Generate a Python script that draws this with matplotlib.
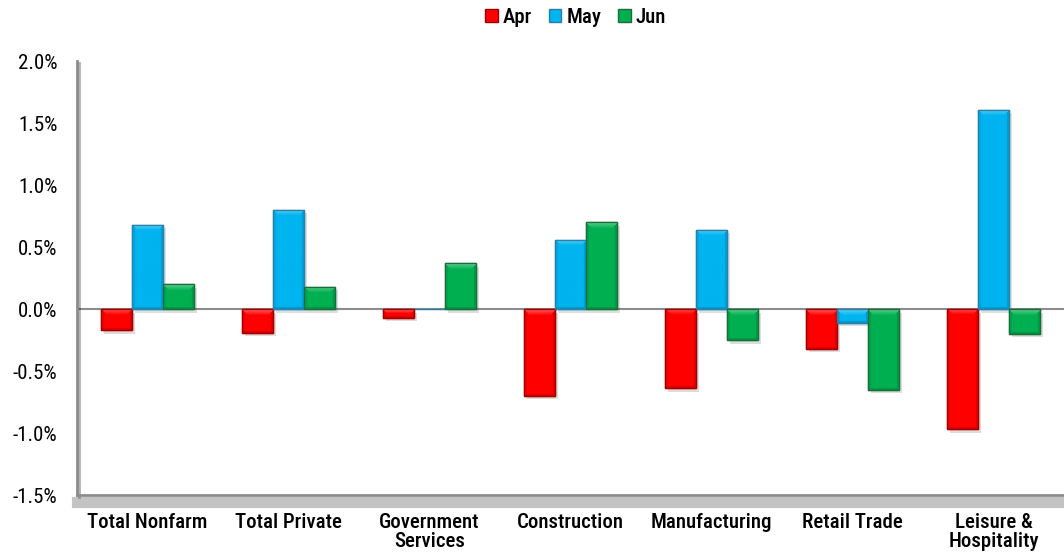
import matplotlib
matplotlib.use("Agg")
import matplotlib.pyplot as plt
import matplotlib.patheffects as pe
from matplotlib.ticker import FuncFormatter
from matplotlib.patches import Patch
from matplotlib.colors import to_rgb
import numpy as np

categories = ["Total Nonfarm", "Total Private", "Government\nServices", "Construction",
              "Manufacturing", "Retail Trade", "Leisure &\nHospitality"]
apr = [-0.17, -0.19, -0.07, -0.70, -0.64, -0.32, -0.97]
may = [0.68, 0.80, 0.0, 0.56, 0.64, -0.11, 1.61]
jun = [0.20, 0.18, 0.37, 0.70, -0.25, -0.65, -0.20]
series = [("Apr", apr, "#FF0000", "#A00000"),
          ("May", may, "#00B4F0", "#2A7FA8"),
          ("Jun", jun, "#00B050", "#1C6B3A")]
yticks = [-1.5, -1.0, -0.5, 0.0, 0.5, 1.0, 1.5, 2.0]

plt.rcParams['font.family'] = ['Roboto Condensed', 'Liberation Sans', 'DejaVu Sans']
plt.rcParams['font.weight'] = 400

fig = plt.figure(figsize=(10.64, 5.56), dpi=100)
ax = fig.add_axes([0.0724, 0.1097, 0.9276, 0.7803])
ax.set_xlim(-0.5, len(categories) - 0.5)
ax.set_ylim(-1.5, 2.0)

x = np.arange(len(categories))
w = 0.22
shadow = [pe.SimplePatchShadow(offset=(2, -2.5), alpha=0.15), pe.Normal()]


def bevel_image(col, wpx, hpx, b=6):
    base = np.array(to_rgb(col))
    wpx = max(int(round(wpx)), 2)
    hpx = max(int(round(hpx)), 2)
    img = np.tile(base, (hpx, wpx, 1))
    yy, xx = np.mgrid[0:hpx, 0:wpx]
    bb = min(b, hpx // 2, wpx // 2)
    sb = min(3, wpx // 4)
    top = (yy < bb) & (xx >= yy) & (xx < wpx - yy)
    left = (xx < sb) & ~top
    right = (xx >= wpx - sb) & ~top
    bottom = (yy >= hpx - 2)
    white = np.ones(3)
    t = 1 - yy / max(bb, 1)
    img[top] = base * (1 - 0.35 * t[top, None]) + white * 0.35 * t[top, None]
    img[left] = base * 0.93
    img[right] = base * 0.88
    img[bottom] = base * 0.85
    return img


for i, (name, vals, col, ecol) in enumerate(series):
    bars = ax.bar(x + (i - 1) * w, vals, w, color=col, edgecolor=ecol, linewidth=1.0,
                  label=name, zorder=3)
    for b in bars:
        b.set_path_effects(shadow)
        if b.get_height() == 0:
            continue
        x0, y0 = b.get_x(), b.get_y()
        x1, y1 = x0 + b.get_width(), y0 + b.get_height()
        ylo, yhi = min(y0, y1), max(y0, y1)
        p0 = ax.transData.transform((x0, ylo))
        p1 = ax.transData.transform((x1, yhi))
        img = bevel_image(col, p1[0] - p0[0], p1[1] - p0[1])
        im = ax.imshow(img, extent=[x0, x1, ylo, yhi], aspect="auto", origin="upper",
                       zorder=3.2, interpolation="bilinear")
        im.set_clip_path(b)
        ax.bar(b.get_x() + b.get_width() / 2, b.get_height(), b.get_width(), bottom=y0,
               facecolor="none", edgecolor=ecol, linewidth=0.9, zorder=3.4)

ax.axhline(0, color="#8C8C8C", linewidth=1.5, zorder=2)
ax.set_xlim(-0.5, len(categories) - 0.5)
ax.set_ylim(-1.5, 2.0)
ax.set_aspect("auto")
ax.set_yticks(yticks)
ax.yaxis.set_major_formatter(FuncFormatter(lambda v, p: f"{v:.1f}%"))
ax.set_xticks(x)
ax.set_xticklabels(categories, fontsize=15, color="black", linespacing=1.0, fontweight=500)
ax.tick_params(axis="both", length=0)
ax.tick_params(axis="y", labelsize=15, pad=14)
ax.tick_params(axis="x", pad=13)

for s in ["top", "right"]:
    ax.spines[s].set_visible(False)
for s in ["left", "bottom"]:
    ax.spines[s].set_color("#8C8C8C")
    ax.spines[s].set_linewidth(2)
ax.spines["bottom"].set_path_effects([pe.SimpleLineShadow(offset=(0, -5), alpha=0.35, linewidth=8, shadow_color="#555555"), pe.Normal()])
ax.spines["left"].set_path_effects([pe.SimpleLineShadow(offset=(1.5, -1.5), alpha=0.3), pe.Normal()])

handles = [Patch(facecolor=c, edgecolor=e, label=n) for n, _, c, e in series]
fig.legend(handles=handles, loc="upper center", bbox_to_anchor=(0.541, 1.02), ncol=3,
           frameon=False, prop={"size": 15, "weight": 500}, handlelength=0.6, handleheight=0.6,
           handletextpad=0.25, columnspacing=0.8)

fig.savefig("out.png", dpi=100)
